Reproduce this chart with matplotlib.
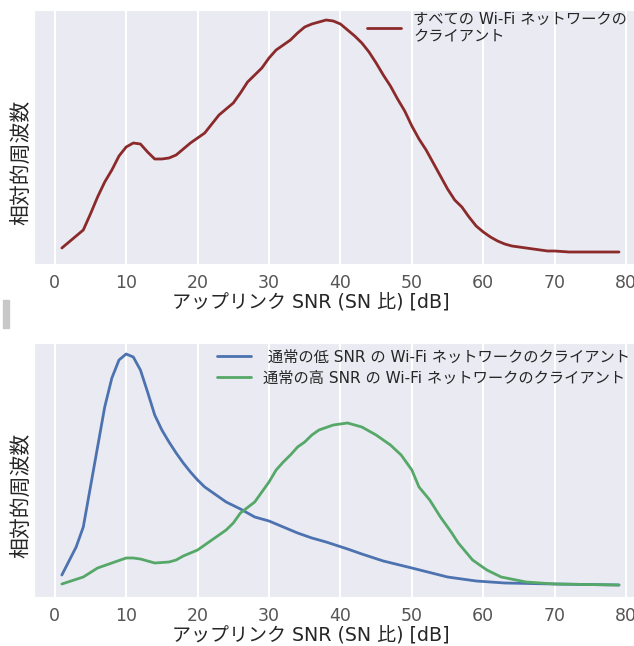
import matplotlib
matplotlib.use("Agg")
import matplotlib.pyplot as plt
import seaborn as sns
from matplotlib.patches import Rectangle

# data (relative frequency, arbitrary units)
x_all = [1, 2, 3, 4, 5, 6, 7, 8, 9, 10, 11, 12, 13, 14, 15, 16, 17, 18, 19, 20,
         21, 22, 23, 24, 25, 26, 27, 28, 29, 30, 31, 32, 33, 34, 35, 36, 37, 38, 39, 40,
         41, 42, 43, 44, 45, 46, 47, 48, 49, 50, 51, 52, 53, 54, 55, 56, 57, 58, 59, 60,
         61, 62, 63, 64, 65, 66, 67, 68, 69, 70, 72, 74, 76, 79]
y_all = [16, 22, 28, 34, 50, 67, 82, 94, 108, 117, 121, 120, 112, 105, 105, 106, 109, 115, 121, 126,
         131, 140, 149, 155, 161, 171, 182, 189, 196, 206, 214, 219, 224, 231, 237, 240, 242, 244, 243, 240,
         234, 228, 221, 212, 201, 189, 178, 165, 153, 138, 125, 114, 101, 88, 75, 64, 57, 47, 38, 32,
         27, 23, 20, 18, 17, 16, 15, 14, 13, 13, 12, 12, 12, 12]

x_low = [1, 2, 3, 4, 5, 6, 7, 8, 9, 10, 11, 12, 13, 14, 15, 16, 17, 18, 19, 20,
         21, 22, 24, 26, 27, 28, 30, 32, 34, 36, 38, 41, 43, 46, 50, 55, 59, 63, 70, 79]
y_low = [22, 36, 50, 70, 110, 150, 190, 219, 237, 243, 240, 227, 205, 182, 167, 155, 144, 134, 125, 117,
         110, 105, 95, 88, 84, 80, 76, 70, 64, 59, 55, 48, 43, 36, 29, 20, 16, 14, 13, 12]

x_high = [1, 4, 6, 8, 10, 11, 12, 14, 16, 17, 18, 20, 22, 24, 25, 26, 28, 29, 30, 31,
          32, 33, 34, 35, 36, 37, 39, 41, 43, 45, 47, 48.5, 50, 51, 52.5, 54, 55.5, 56.5, 58.5, 60.5,
          62.5, 66, 70, 79]
y_high = [13, 20, 29, 34, 39, 39, 38, 34, 35, 37, 41, 47, 57, 67, 74, 84, 95, 105, 115, 127,
          135, 142, 150, 155, 162, 167, 172, 174, 170, 162, 152, 142, 127, 110, 97, 80, 65, 54, 37, 27,
          20, 15, 13, 12]

label_all = "すべての Wi-Fi ネットワークの\nクライアント"
label_low = " 通常の低 SNR の Wi-Fi ネットワークのクライアント"
label_high = "通常の高 SNR の Wi-Fi ネットワークのクライアント"
xticks = [0, 10, 20, 30, 40, 50, 60, 70, 80]

sns.set_style("darkgrid")
plt.rcParams['font.family'] = ['DejaVu Sans', 'Noto Sans CJK JP']

W, H = 634, 646
fig = plt.figure(figsize=(W / 100, H / 100), dpi=100)
ax1 = fig.add_axes([34 / W, 1 - 264 / H, 600 / W, 254 / H])
ax2 = fig.add_axes([34 / W, 1 - 597 / H, 600 / W, 254 / H])

ax1.plot(x_all, y_all, color="#8b2a2a", lw=2, label=label_all)
ax2.plot(x_low, y_low, color="#4c72b0", lw=2, label=label_low)
ax2.plot(x_high, y_high, color="#55a868", lw=2, label=label_high)

for ax in (ax1, ax2):
    ax.set_xlim(-2.9, 81.1)
    ax.set_ylim(0, 254)
    ax.set_yticks([])
    ax.set_xticks(xticks)
    ax.tick_params(axis='x', labelsize=12.5, labelcolor="#555555", pad=4)
    ax.set_xlabel("アップリンク SNR (SN 比) [dB]", fontsize=13.7)
    ax.xaxis.set_label_coords(0.462, -0.118)
    ax.set_ylabel("相対的周波数", fontsize=15)
    ax.yaxis.set_label_coords(-0.005, 0.40)
    ax.grid(axis='x', color='white', lw=1.5)
    ax.grid(axis='y', visible=False)

ax1.legend(loc='upper left', bbox_to_anchor=(0.54, 1.03), frameon=False,
           handlelength=2.2, handletextpad=0.8, borderaxespad=0.2,
           prop={'family': ['DejaVu Sans', 'Noto Sans CJK JP'], 'size': 11})
ax2.legend(loc='upper left', bbox_to_anchor=(0.29, 1.01), frameon=False,
           handlelength=2.2, handletextpad=0.8, labelspacing=0.4, borderaxespad=0.2,
           prop={'family': ['DejaVu Sans', 'Noto Sans CJK JP'], 'size': 11})

fig.patches.append(Rectangle((3 / W, 1 - 328 / H), 6 / W, 28 / H,
                             transform=fig.transFigure, color="#c8c8c8", zorder=0))

fig.savefig("out.png", dpi=100)
